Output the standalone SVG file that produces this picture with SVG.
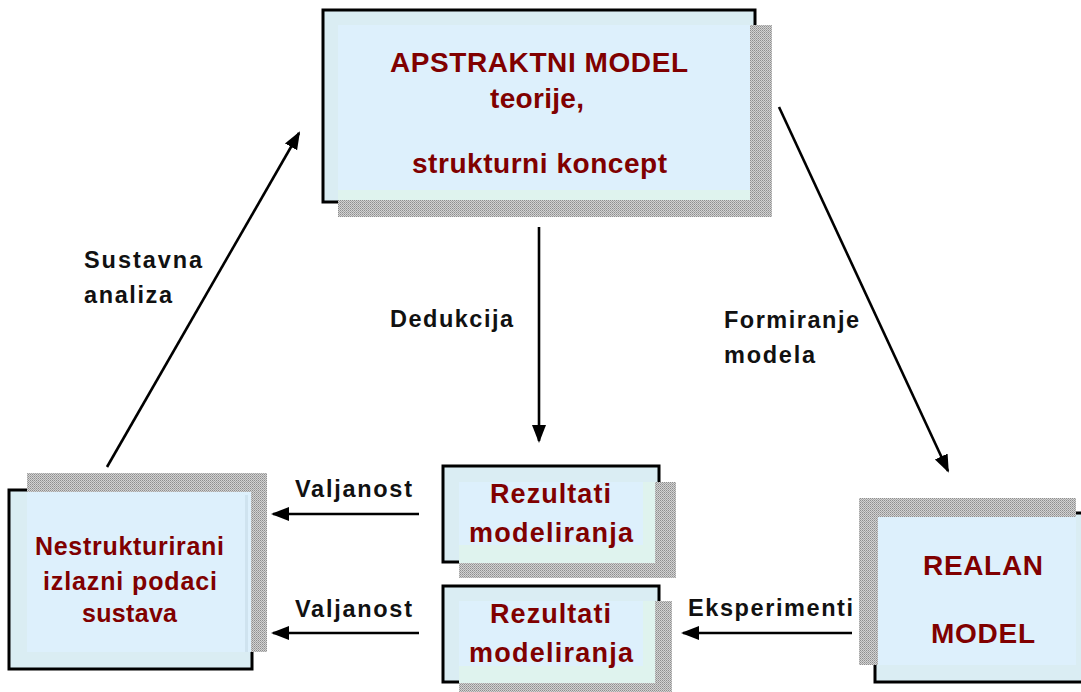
<svg xmlns="http://www.w3.org/2000/svg" width="1081" height="692" viewBox="0 0 1081 692">
<defs>
<pattern id="dither" patternUnits="userSpaceOnUse" width="2" height="2">
<rect width="2" height="2" fill="#d2d2d2"/>
<rect x="0" y="0" width="1" height="1" fill="#8e8e8e"/>
<rect x="1" y="1" width="1" height="1" fill="#a6a6a6"/>
</pattern>
<marker id="arrow" markerUnits="userSpaceOnUse" markerWidth="18" markerHeight="16" viewBox="0 0 18 16" refX="16" refY="8" orient="auto">
<path d="M0,1 L18,8 L0,15 Z" fill="#000"/>
</marker>
<style>
.back{fill:#daedf3;stroke:#000;stroke-width:3}
.shadow{fill:url(#dither)}
.front{fill:#ddf0fc}
.tint{fill:#dff3ee}
.node{font-family:"Liberation Sans",Arial,sans-serif;font-weight:bold;fill:#800000}
.lbl{font-family:"Liberation Sans",Arial,sans-serif;font-weight:bold;font-size:23.5px;fill:#111}
.conn{stroke:#000;stroke-width:2.6;fill:none;marker-end:url(#arrow)}
</style>
</defs>
<rect width="1081" height="692" fill="#fff"/>

<g id="node-apstraktni">
<rect class="back" x="323" y="10" width="432" height="192"/>
<rect class="shadow" x="338" y="25" width="434" height="192"/>
<rect class="front" x="338" y="25" width="412" height="175"/>
<rect class="tint" x="338" y="190" width="412" height="10"/>
<text class="node" font-size="28" x="390" y="72" textLength="298" lengthAdjust="spacing">APSTRAKTNI MODEL</text>
<text class="node" font-size="28" x="490" y="108" textLength="94" lengthAdjust="spacing">teorije,</text>
<text class="node" font-size="28" x="412" y="173" textLength="255" lengthAdjust="spacing">strukturni koncept</text>
</g>

<g id="node-nestrukturirani">
<rect class="back" x="9" y="490" width="243" height="179"/>
<rect class="shadow" x="27" y="473" width="240" height="179"/>
<rect class="front" x="27" y="492" width="224" height="160"/>
<rect x="245" y="495" width="3" height="157" fill="#cfe3ef"/>
<text class="node" font-size="25" x="35" y="555" textLength="189" lengthAdjust="spacing">Nestrukturirani</text>
<text class="node" font-size="25" x="43" y="590" textLength="174" lengthAdjust="spacing">izlazni podaci</text>
<text class="node" font-size="25" x="82" y="622" textLength="95" lengthAdjust="spacing">sustava</text>
</g>

<g id="node-rezultati-1">
<rect class="back" x="443" y="466" width="216" height="96"/>
<rect class="shadow" x="459" y="482" width="217" height="96"/>
<rect class="front" x="459" y="482" width="196" height="81"/>
<rect class="tint" x="459" y="545" width="196" height="18"/>
<rect class="tint" x="643" y="482" width="12" height="81"/>
<text class="node" font-size="27" x="490" y="503" textLength="121" lengthAdjust="spacing">Rezultati</text>
<text class="node" font-size="27" x="469" y="542" textLength="164" lengthAdjust="spacing">modeliranja</text>
</g>

<g id="node-rezultati-2">
<rect class="back" x="443" y="586" width="216" height="96"/>
<rect class="shadow" x="459" y="601" width="213" height="95"/>
<rect class="front" x="459" y="601" width="196" height="82"/>
<rect class="tint" x="459" y="666" width="196" height="17"/>
<rect class="tint" x="643" y="601" width="12" height="82"/>
<text class="node" font-size="27" x="490" y="623" textLength="121" lengthAdjust="spacing">Rezultati</text>
<text class="node" font-size="27" x="469" y="662" textLength="164" lengthAdjust="spacing">modeliranja</text>
</g>

<g id="node-realan">
<rect class="back" x="875" y="513" width="210" height="169"/>
<rect class="shadow" x="859" y="498" width="217" height="167"/>
<rect class="front" x="878" y="517" width="198" height="148"/>
<text class="node" font-size="28" x="923" y="575" textLength="120" lengthAdjust="spacing">REALAN</text>
<text class="node" font-size="28" x="931" y="643" textLength="104" lengthAdjust="spacing">MODEL</text>
</g>

<g id="connectors">
<line class="conn" x1="107" y1="467" x2="299" y2="133"/>
<line class="conn" x1="779" y1="107" x2="948" y2="471"/>
<line class="conn" x1="539" y1="227" x2="539" y2="441"/>
<line class="conn" x1="419" y1="514" x2="273" y2="514"/>
<line class="conn" x1="419" y1="633" x2="273" y2="633"/>
<line class="conn" x1="852" y1="633" x2="683" y2="633"/>
</g>

<g id="labels">
<text class="lbl" x="84" y="268" textLength="118" lengthAdjust="spacing">Sustavna</text>
<text class="lbl" x="84" y="303" textLength="88" lengthAdjust="spacing">analiza</text>
<text class="lbl" x="390" y="327" textLength="123" lengthAdjust="spacing">Dedukcija</text>
<text class="lbl" x="724" y="328" textLength="135" lengthAdjust="spacing">Formiranje</text>
<text class="lbl" x="724" y="363" textLength="91" lengthAdjust="spacing">modela</text>
<text class="lbl" x="295" y="497" textLength="117" lengthAdjust="spacing">Valjanost</text>
<text class="lbl" x="295" y="617" textLength="117" lengthAdjust="spacing">Valjanost</text>
<text class="lbl" x="688" y="616" textLength="165" lengthAdjust="spacing">Eksperimenti</text>
</g>
</svg>
